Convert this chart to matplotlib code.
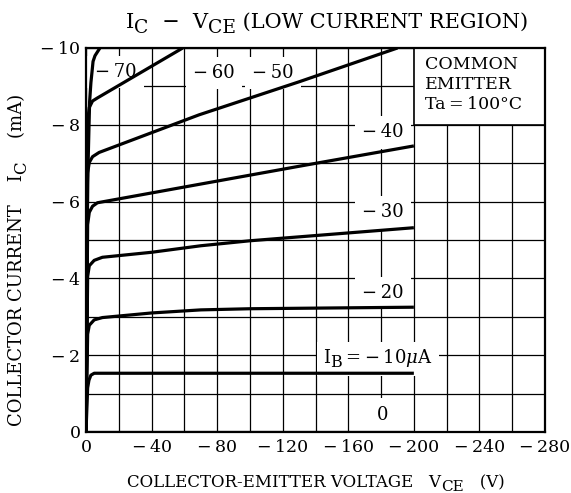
import numpy as np
import matplotlib.pyplot as plt
from matplotlib.patches import Rectangle

plt.rcParams['font.family'] = ['DejaVu Serif']
plt.rcParams['mathtext.fontset'] = 'dejavuserif'

# curvas IC - VCE (V e mA)
vce_0 = [0, -200]
ic_0 = [0, 0]

vce_10 = [0, -1.0, -1.8, -3.0, -5.0, -10, -100, -200]
ic_10 = [0, -1.15, -1.35, -1.48, -1.53, -1.53, -1.53, -1.53]

vce_20 = [0, -1.0, -2.0, -5.0, -10, -40, -70, -100, -200]
ic_20 = [0, -2.55, -2.78, -2.92, -2.98, -3.1, -3.18, -3.21, -3.25]

vce_30 = [0, -1.0, -2.0, -5.0, -10, -40, -70, -100, -150, -200]
ic_30 = [0, -4.05, -4.33, -4.47, -4.55, -4.68, -4.85, -4.98, -5.15, -5.32]

vce_40 = [0, -1.0, -2.0, -4.0, -7.0, -60, -130, -200]
ic_40 = [0, -5.4, -5.72, -5.88, -5.97, -6.38, -6.92, -7.45]

vce_50 = [0, -1.0, -2.0, -4.0, -8.0, -69, -130, -190]
ic_50 = [0, -6.75, -7.02, -7.17, -7.28, -8.26, -9.12, -10]

vce_60 = [0, -1.0, -2.0, -4.0, -7.0, -59]
ic_60 = [0, -8.1, -8.45, -8.62, -8.7, -10]

vce_70 = [0, -1.0, -2.2, -3.0, -3.6, -4.3, -5.5, -6.7, -8.5]
ic_70 = [0, -6.5, -8.6, -9.1, -9.35, -9.65, -9.8, -9.88, -10]

curvas = [(vce_0, ic_0), (vce_10, ic_10), (vce_20, ic_20), (vce_30, ic_30),
          (vce_40, ic_40), (vce_50, ic_50), (vce_60, ic_60), (vce_70, ic_70)]

# rótulos de IB (texto, V, I)
rotulos = [("−\u200970", -18, -9.38), ("−\u200960", -78, -9.35), ("−\u200950", -114, -9.35),
           ("−\u200940", -181, -7.8), ("−\u200930", -181, -5.72), ("−\u200920", -181, -3.62),
           ("0", -181, -0.45)]
rotulo_ib = ("I", "B", "\u2009=\u2009−\u200910$\\mu$A", -178, -1.95)

xticks = [0, -40, -80, -120, -160, -200, -240, -280]
xticklabels = ["0", "−\u200940", "−\u200980", "−\u2009120", "−\u2009160", "−\u2009200",
               "−\u2009240", "−\u2009280"]
yticks = [0, -2, -4, -6, -8, -10]
yticklabels = ["0", "−\u20092", "−\u20094", "−\u20096", "−\u20098", "−\u200910"]

fig = plt.figure(figsize=(5.71, 4.93), dpi=100)
ax = fig.add_axes([86/571, 61/493, 459/571, 384/493])
r = fig.canvas.get_renderer()


def texto_partes(pecas, cx, cy, rot=0):
    # escreve texto com subscritos "de verdade": pecas = (texto, tamanho, descida em pt)
    ts, larg = [], []
    for txt, tam, desl in pecas:
        t = fig.text(0, 0, txt, fontsize=tam, ha="left", va="baseline",
                     rotation_mode="anchor", zorder=5)
        larg.append(t.get_window_extent(r).width)
        ts.append(t)
    W, H = fig.bbox.width, fig.bbox.height
    pos = -sum(larg) / 2
    for t, w, (txt, tam, desl) in zip(ts, larg, pecas):
        d = desl * fig.dpi / 72
        if rot == 0:
            t.set_position(((cx + pos) / W, (cy - d) / H))
        else:
            t.set_rotation(90)
            t.set_position(((cx + d) / W, (cy + pos) / H))
        pos += w
    return ts


for v, i in curvas:
    ax.plot(v, i, color="black", lw=2.3, zorder=3, solid_capstyle="butt")

ax.set_xlim(0, -280)
ax.set_ylim(0, -10)
ax.set_xticks(xticks)
ax.set_xticklabels(xticklabels, fontsize=12.5)
ax.set_yticks(yticks)
ax.set_yticklabels(yticklabels, fontsize=12.5)
ax.set_xticks(np.arange(0, -281, -20), minor=True)
ax.set_yticks(np.arange(0, -10.1, -1), minor=True)
ax.tick_params(which="both", length=0)
ax.tick_params(axis="x", pad=5)
ax.tick_params(axis="y", pad=4)
ax.grid(True, which="both", color="black", lw=0.9)
ax.set_axisbelow(True)
for s in ax.spines.values():
    s.set_linewidth(1.6)

for txt, v, i in rotulos:
    ax.text(v, i, txt, fontsize=13, ha="center", va="center", zorder=2,
            bbox=dict(boxstyle="square,pad=0.4", fc="white", ec="none"))

# rótulo IB = -10 uA: texto em partes + fundo branco
px, py = ax.transData.transform((rotulo_ib[3], rotulo_ib[4]))
partes = texto_partes([(rotulo_ib[0], 13, 0), (rotulo_ib[1], 11.5, 3), (rotulo_ib[2], 13, 0)],
                      px, py - 6)
fig.canvas.draw()
bb = [t.get_window_extent(r) for t in partes]
x0 = min(b.x0 for b in bb) - 6
x1 = max(b.x1 for b in bb) + 6
y0 = min(b.y0 for b in bb) - 5
y1 = max(b.y1 for b in bb) + 5
W, H = fig.bbox.width, fig.bbox.height
ax.add_patch(Rectangle((x0 / W, y0 / H), (x1 - x0) / W, (y1 - y0) / H, transform=fig.transFigure,
                       fc="white", ec="none", zorder=2))

# caixa "COMMON EMITTER"
ax.add_patch(Rectangle((-200, -8), -80, -2, fc="white", ec="black", lw=1.2, zorder=2))
ax.text(-207, -9.78, "COMMON\nEMITTER\nTa\u2009=\u2009100°C", fontsize=12.5, ha="left", va="top",
        linespacing=1.2, zorder=3)

# título e eixos
texto_partes([("I", 15, 0), ("C", 13.5, 3.5), ("  −  V", 15, 0), ("CE", 13.5, 3.5),
              (" (LOW CURRENT REGION)", 15, 0)], 327, 493 - 28)
texto_partes([("COLLECTOR-EMITTER VOLTAGE   V", 12, 0), ("CE", 11, 3),
              ("   (V)", 12, 0)], 316, 493 - 487)
texto_partes([("COLLECTOR CURRENT    I", 13, 0), ("C", 12, 3),
              ("    (mA)", 13, 0)], 22, 493 - 260, rot=90)

plt.savefig("out.png", dpi=100)
